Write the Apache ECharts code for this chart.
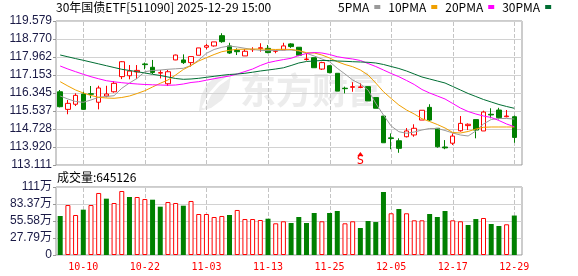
<!DOCTYPE html>
<html><head><meta charset="utf-8">
<script src="https://cdn.jsdelivr.net/npm/echarts@6/dist/echarts.min.js"></script>
<style>html,body{margin:0;padding:0;background:#fff}#c{width:578px;height:276px}</style>
</head><body><div id="c"></div>
<script>
const chartTitle = '30年国债ETF[511090] 2025-12-29 15:00';
const dates = ['09-29','09-30','10-09','10-10','10-13','10-14','10-15','10-16','10-17','10-20',
 '10-21','10-22','10-23','10-24','10-27','10-28','10-29','10-30','10-31','11-03',
 '11-04','11-05','11-06','11-07','11-10','11-11','11-12','11-13','11-14','11-17',
 '11-18','11-19','11-20','11-21','11-24','11-25','11-26','11-27','11-28','12-01',
 '12-02','12-03','12-04','12-05','12-08','12-09','12-10','12-11','12-12','12-15',
 '12-16','12-17','12-18','12-19','12-22','12-23','12-24','12-25','12-26','12-29'];
const opens = [116.40,115.61,115.84,116.30,116.31,115.93,116.21,116.40,117.08,117.12,
 117.29,117.65,117.50,117.24,116.76,117.83,117.83,117.71,118.04,118.40,
 118.46,118.92,118.46,118.26,118.01,118.29,118.34,118.35,118.22,118.28,
 118.55,118.40,117.85,117.93,117.42,117.57,117.23,116.56,116.60,116.59,
 116.63,116.14,115.31,114.33,114.20,114.38,114.46,115.13,115.70,114.76,
 113.92,114.09,114.65,114.88,115.15,114.64,115.39,115.58,115.28,115.28];
const closes = [115.73,115.88,116.24,115.61,116.29,116.57,116.30,116.78,117.75,117.33,
 117.36,117.62,117.27,117.26,117.30,118.05,117.71,117.98,118.37,118.47,
 118.64,118.65,118.14,118.20,118.22,118.30,118.38,118.16,118.24,118.46,
 118.43,118.04,117.87,117.48,117.71,117.26,116.43,116.54,116.63,116.62,
 115.99,115.66,114.11,114.30,113.86,114.64,114.76,115.57,115.13,113.93,
 113.88,114.41,114.98,114.94,114.68,115.49,115.36,115.24,115.31,114.35];
const lows = [115.70,115.39,115.76,115.60,116.11,115.61,116.15,116.36,116.97,116.96,
 116.97,117.41,117.20,117.00,116.66,117.82,117.65,117.53,118.04,118.31,
 118.43,118.60,118.10,118.05,118.01,118.19,118.20,118.13,118.13,118.28,
 118.37,118.00,117.80,117.48,117.38,117.23,116.43,116.33,116.40,116.56,
 115.99,115.66,114.11,113.82,113.66,114.35,114.38,115.13,115.09,113.89,
 113.82,114.01,114.61,114.68,114.31,114.64,115.21,115.16,115.25,114.11];
const highs = [116.48,116.03,116.33,116.40,116.66,116.67,116.67,116.88,117.78,117.60,
 117.60,117.71,117.83,117.38,117.38,118.07,118.08,117.98,118.37,118.55,
 118.64,119.03,118.60,118.35,118.32,118.40,118.58,118.50,118.25,118.60,
 118.58,118.40,118.13,117.93,117.75,117.60,117.23,116.63,116.83,116.78,
 116.63,116.14,115.31,114.53,114.31,114.77,114.94,115.57,115.84,114.76,
 114.23,114.53,115.31,114.98,115.15,115.55,115.66,115.68,115.58,115.33];
const volumes = [638000,817000,654000,741000,817000,1014000,921000,850000,1046000,948000,
 948000,915000,904000,790000,866000,850000,806000,883000,670000,670000,
 621000,638000,654000,736000,588000,588000,572000,593000,518000,551000,
 523000,621000,523000,687000,551000,687000,719000,518000,551000,441000,
 556000,539000,1030000,682000,752000,682000,567000,567000,670000,621000,
 719000,567000,551000,490000,588000,605000,507000,474000,502000,645126];
const ma5 = [116.210,116.076,115.963,115.927,116.031,116.152,116.188,116.224,116.556,116.794,
 117.005,117.302,117.356,117.378,117.410,117.432,117.455,117.580,117.827,118.128,
 118.299,118.398,118.456,118.411,118.353,118.299,118.263,118.245,118.254,118.268,
 118.277,118.232,118.128,118.007,117.872,117.751,117.455,117.199,116.929,116.749,
 116.480,115.882,115.357,114.863,114.607,114.535,114.593,114.683,114.751,114.751,
 114.661,114.549,114.459,114.414,114.638,114.953,115.155,115.200,115.200,115.177];
const ma10 = [116.853,116.660,116.480,116.345,116.233,116.152,116.120,116.107,116.143,116.210,
 116.323,116.448,116.614,116.781,116.929,117.153,117.401,117.580,117.782,117.931,
 118.074,118.200,118.263,118.308,118.310,118.320,118.320,118.310,118.300,118.310,
 118.300,118.254,118.155,118.142,118.052,117.917,117.751,117.625,117.526,117.378,
 117.153,116.794,116.403,116.098,115.806,115.581,115.402,115.191,115.065,114.930,
 114.773,114.571,114.549,114.616,114.728,114.805,114.818,114.818,114.818,114.818];
const ma20 = [117.557,117.423,117.302,117.185,117.077,116.983,116.898,116.848,116.808,116.776,
 116.749,116.727,116.713,116.704,116.691,116.704,116.749,116.817,116.853,116.920,
 116.987,117.050,117.109,117.198,117.310,117.423,117.580,117.706,117.782,117.845,
 117.904,118.029,118.119,118.164,118.142,118.074,117.976,117.917,117.872,117.805,
 117.670,117.535,117.378,117.221,117.077,116.907,116.727,116.502,116.345,116.210,
 116.076,115.874,115.671,115.514,115.402,115.312,115.245,115.110,114.953,114.831];
const ma30 = [118.052,117.971,117.890,117.814,117.733,117.652,117.571,117.490,117.410,117.356,
 117.302,117.243,117.185,117.131,117.064,116.996,116.960,116.974,117.005,117.050,
 117.095,117.140,117.176,117.198,117.230,117.279,117.333,117.378,117.423,117.477,
 117.580,117.693,117.760,117.782,117.805,117.805,117.782,117.769,117.751,117.738,
 117.724,117.693,117.626,117.535,117.446,117.333,117.198,117.064,116.974,116.884,
 116.794,116.637,116.480,116.323,116.188,116.053,115.941,115.829,115.739,115.658];
const priceTicks = [113.111,113.920,114.728,115.537,116.345,117.153,117.962,118.770,119.579];
const volTickLabels = ['0','27.79万','55.58万','83.37万','111万'];
const volMax = 1111600;
const maNames = ['5PMA','10PMA','20PMA','30PMA'];
const signalDate = '12-01';
const signalText = 'S';
const watermarkText = '东方财富';
const firstLabel = 3, labelStep = 8;

const RED = '#ff0000', GREEN = '#008000';
const maColors = ['#9a9a9a','#f0a000','#ff00ff','#006e33'];
const lblFont = '"Liberation Sans","Noto Sans CJK SC",sans-serif';
const cjkFont = '"Noto Sans CJK SC",sans-serif';
const dateFont = '"DejaVu Sans Mono",monospace';
const showIdx = (i) => (i - firstLabel) % labelStep === 0;
const labelIdx = dates.map((d, i) => i).filter(showIdx);

const candleData = dates.map((d, i) => [opens[i], closes[i], lows[i], highs[i]]);
const volData = volumes.map((v, i) => {
  const up = i === 0 ? closes[i] >= opens[i] : closes[i] >= closes[i - 1];
  return { value: v, itemStyle: up ? { color: '#fff', borderColor: RED, borderWidth: 1 } : { color: GREEN, borderColor: GREEN, borderWidth: 0 } };
});
// dashed vertical grid line at each labelled date, placed through the category axis
const dashRender = (params, api) => {
  const cs = params.coordSys;
  const x = Math.round(api.coord([api.value(0), api.value(1)])[0]) + 0.5;
  const segs = [];
  for (let y = cs.y + 1; y < cs.y + cs.height; y += 6) {
    segs.push({ type: 'line', shape: { x1: x, y1: y, x2: x, y2: Math.min(y + 4, cs.y + cs.height) },
      style: { stroke: '#c4c4c4', lineWidth: 1 } });
  }
  return { type: 'group', children: segs };
};
const dashSeries = (xi, yi, yv) => ({
  type: 'custom', xAxisIndex: xi, yAxisIndex: yi, z: 1, silent: true, clip: false,
  renderItem: dashRender, encode: { x: 0, y: 1 },
  data: labelIdx.map((i) => [dates[i], yv])
});

const chart = echarts.init(document.getElementById('c'), null, { renderer: 'canvas' });
chart.setOption({
  animation: false,
  backgroundColor: '#fff',
  title: [
    { text: chartTitle, left: 56, top: 1, padding: 0, textStyle: { fontSize: 12, fontWeight: 'normal', fontFamily: cjkFont, color: '#000' } },
    { text: '成交量:' + volumes[volumes.length - 1], left: 57, top: 171, padding: 0, textStyle: { fontSize: 12, fontWeight: 'normal', fontFamily: cjkFont, color: '#000' } }
  ],
  legend: {
    data: maNames, left: 338, top: 1, padding: 0, itemWidth: 6, itemHeight: 4, itemGap: 8, align: 'right', icon: 'rect',
    selectedMode: false, textStyle: { fontSize: 12, fontFamily: cjkFont, color: '#000' }
  },
  graphic: [
    { type: 'polygon', z: -10, silent: true,
      shape: { points: [[199, 111], [201, 96], [207, 84], [217, 76], [231, 74], [229, 88], [222, 100], [211, 108]] },
      style: { fill: '#ececec' } },
    { type: 'polyline', z: -9, silent: true,
      shape: { points: [[203, 108], [210, 94], [219, 84], [229, 77]] },
      style: { stroke: '#fff', lineWidth: 3, fill: null } },
    { type: 'text', left: 240, top: 72, z: -10, silent: true, style: { text: watermarkText, font: 'bold 36px "Noto Sans CJK SC"', fill: '#ececec' } }
  ],
  grid: [
    { left: 56, top: 21, width: 466, height: 144, show: true, borderColor: '#999', borderWidth: 1, backgroundColor: 'transparent' },
    { left: 56.35, top: 21, width: 461.8, height: 144 },
    { left: 56, top: 187, width: 466, height: 68, show: true, borderColor: '#999', borderWidth: 1, backgroundColor: 'transparent' },
    { left: 56.35, top: 187, width: 461.8, height: 68 }
  ],
  xAxis: [
    { gridIndex: 0, type: 'value', min: 0, max: 1, show: false },
    { gridIndex: 1, type: 'category', data: dates, boundaryGap: true, axisLine: { show: false }, axisTick: { show: false }, axisLabel: { show: false }, splitLine: { show: false } },
    { gridIndex: 2, type: 'value', min: 0, max: 1, show: false },
    { gridIndex: 3, type: 'category', data: dates, boundaryGap: true, axisLine: { show: false }, axisTick: { show: false },
      axisLabel: { show: true, interval: showIdx, color: RED, fontFamily: dateFont, fontSize: 10, margin: 7 }, splitLine: { show: false } }
  ],
  yAxis: [
    { gridIndex: 0, type: 'value', min: priceTicks[0], max: priceTicks[priceTicks.length - 1], axisLine: { show: false },
      axisTick: { show: true, length: 3, customValues: priceTicks, lineStyle: { color: '#999' } },
      axisLabel: { customValues: priceTicks, formatter: (v) => v.toFixed(3), color: '#1a1a46', fontFamily: lblFont, fontSize: 12, margin: 4 },
      splitLine: { show: true, lineStyle: { color: '#d2d2d2', width: 1 } } },
    { gridIndex: 1, type: 'value', min: priceTicks[0], max: priceTicks[priceTicks.length - 1], show: false },
    { gridIndex: 2, type: 'value', min: 0, max: volMax, interval: volMax / 4, axisLine: { show: false },
      axisTick: { show: true, length: 3, lineStyle: { color: '#999' } },
      axisLabel: { formatter: (v) => volTickLabels[Math.round(v / (volMax / 4))], color: '#1a1a46', fontFamily: lblFont, fontSize: 12, margin: 4 },
      splitLine: { show: true, lineStyle: { color: '#d2d2d2', width: 1 } } },
    { gridIndex: 3, type: 'value', min: 0, max: volMax, show: false }
  ],
  series: [
    dashSeries(1, 1, priceTicks[4]),
    dashSeries(3, 3, volMax / 2),
    { type: 'candlestick', name: 'K', xAxisIndex: 1, yAxisIndex: 1, data: candleData, barWidth: 5, z: 2,
      itemStyle: { color: '#fff', color0: GREEN, borderColor: RED, borderColor0: GREEN, borderWidth: 1 },
      markPoint: { silent: true, data: [ { coord: [signalDate, priceTicks[0]], symbol: 'triangle', symbolSize: [6, 4], symbolOffset: [0, -11],
        itemStyle: { color: RED }, label: { show: true, formatter: signalText, position: 'inside', offset: [0, 7], color: RED, fontSize: 12, fontFamily: dateFont } } ] }
    },
    ...[ma5, ma10, ma20, ma30].map((arr, k) => ({
      type: 'line', name: maNames[k], xAxisIndex: 1, yAxisIndex: 1, data: arr, symbol: 'none', showSymbol: false, smooth: false,
      itemStyle: { color: maColors[k] }, lineStyle: { color: maColors[k], width: 1 }, z: 3
    })),
    { type: 'bar', name: 'VOL', xAxisIndex: 3, yAxisIndex: 3, data: volData, barWidth: 5, z: 2 }
  ]
});
</script></body></html>
